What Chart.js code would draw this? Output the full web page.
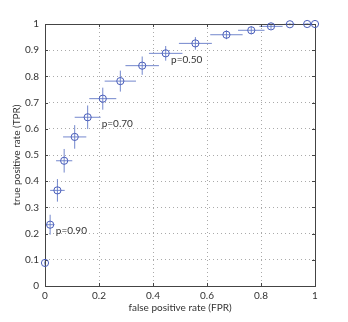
<!DOCTYPE html>
<html>
<head>
<meta charset="utf-8">
<script src="https://cdn.jsdelivr.net/npm/chart.js@4/dist/chart.umd.min.js"></script>
<style>
  html, body { margin: 0; padding: 0; background: #fff; }
  #wrap { width: 348px; height: 322px; }
</style>
</head>
<body>
<div id="wrap"><canvas id="roc"></canvas></div>
<script>
const fpr = [0, 0.019, 0.046, 0.071, 0.110, 0.158, 0.214, 0.279, 0.360, 0.447, 0.557, 0.672, 0.764, 0.837, 0.907, 0.971, 1.0];
const tpr = [0.088, 0.234, 0.365, 0.478, 0.569, 0.644, 0.715, 0.782, 0.841, 0.888, 0.926, 0.959, 0.976, 0.991, 0.999, 1.0, 1.0];
const fprErr = [0.004, 0.016, 0.027, 0.030, 0.043, 0.048, 0.050, 0.058, 0.062, 0.062, 0.061, 0.060, 0.049, 0.043, 0.020, 0.010, 0];
const tprErr = [0.010, 0.038, 0.043, 0.045, 0.045, 0.045, 0.042, 0.040, 0.035, 0.028, 0.024, 0.017, 0.015, 0.010, 0.004, 0.002, 0];

const noteText = ['p=0.90', 'p=0.70', 'p=0.50'];
const noteX = [0.040, 0.210, 0.467];
const noteY = [0.210, 0.618, 0.865];

const xTicks = [0, 0.2, 0.4, 0.6, 0.8, 1];
const yTicks = [0, 0.1, 0.2, 0.3, 0.4, 0.5, 0.6, 0.7, 0.8, 0.9, 1];

const markColor = 'rgb(72, 92, 185)';
const barColor = 'rgba(100, 122, 200, 0.9)';
const textColor = '#333';
const fontFamily = 'Lato, "Open Sans", sans-serif';

// error bars, drawn under the markers
const errorBars = {
    id: 'errorBars',
    beforeDatasetsDraw(chart) {
        const { ctx, scales: { x, y } } = chart;
        ctx.save();
        ctx.strokeStyle = barColor;
        ctx.lineWidth = 1;
        fpr.forEach((fx, i) => {
            const px = x.getPixelForValue(fx);
            const py = y.getPixelForValue(tpr[i]);
            ctx.beginPath();
            ctx.moveTo(x.getPixelForValue(fx - fprErr[i]), py);
            ctx.lineTo(x.getPixelForValue(fx + fprErr[i]), py);
            ctx.moveTo(px, y.getPixelForValue(tpr[i] - tprErr[i]));
            ctx.lineTo(px, y.getPixelForValue(tpr[i] + tprErr[i]));
            ctx.stroke();
        });
        ctx.restore();
    }
};

// box, inward ticks and the p= notes
const frame = {
    id: 'frame',
    beforeDatasetsDraw(chart) {
        const { ctx, chartArea: a, scales: { x, y } } = chart;
        ctx.save();
        ctx.strokeStyle = '#444';
        ctx.lineWidth = 1;
        ctx.strokeRect(Math.round(a.left) + 0.5, Math.round(a.top) + 0.5,
            Math.round(a.right - a.left), Math.round(a.bottom - a.top));
        ctx.beginPath();
        xTicks.forEach(v => {
            const px = Math.round(x.getPixelForValue(v)) + 0.5;
            ctx.moveTo(px, a.bottom); ctx.lineTo(px, a.bottom - 3);
            ctx.moveTo(px, a.top); ctx.lineTo(px, a.top + 3);
        });
        yTicks.forEach(v => {
            const py = Math.round(y.getPixelForValue(v)) + 0.5;
            ctx.moveTo(a.left, py); ctx.lineTo(a.left + 3, py);
            ctx.moveTo(a.right, py); ctx.lineTo(a.right - 3, py);
        });
        ctx.stroke();

        ctx.fillStyle = textColor;
        ctx.font = '10px ' + fontFamily;
        ctx.textAlign = 'left';
        ctx.textBaseline = 'middle';
        noteText.forEach((t, i) => {
            ctx.fillText(t, x.getPixelForValue(noteX[i]), y.getPixelForValue(noteY[i]));
        });
        ctx.restore();
    }
};

new Chart(document.getElementById('roc'), {
    type: 'scatter',
    data: {
        datasets: [{
            data: fpr.map((v, i) => ({ x: v, y: tpr[i] })),
            showLine: false,
            clip: false,
            pointStyle: 'circle',
            pointRadius: 3.6,
            pointHoverRadius: 3.6,
            borderColor: markColor,
            backgroundColor: 'rgba(0,0,0,0)',
            borderWidth: 1,
        }]
    },
    options: {
        responsive: true,
        maintainAspectRatio: false,
        animation: false,
        events: [],
        layout: { padding: { left: 0, right: 33, top: 24, bottom: 0 } },
        plugins: { legend: { display: false }, tooltip: { enabled: false } },
        scales: {
            x: {
                type: 'linear',
                min: 0,
                max: 1,
                afterFit: s => { s.height = 36; },
                afterBuildTicks: s => { s.ticks = xTicks.map(v => ({ value: v })); },
                grid: { color: '#aaa', lineWidth: 1, drawTicks: false },
                border: { display: false, dash: [1, 3] },
                ticks: {
                    padding: 4,
                    color: textColor,
                    font: { family: fontFamily, size: 10 },
                    callback: v => String(+v.toFixed(1))
                },
                title: {
                    display: true,
                    text: 'false positive rate (FPR)',
                    color: textColor,
                    font: { family: fontFamily, size: 10 },
                    padding: { top: 0, bottom: 8 }
                }
            },
            y: {
                type: 'linear',
                min: 0,
                max: 1,
                afterFit: s => { s.width = 45; },
                afterBuildTicks: s => { s.ticks = yTicks.map(v => ({ value: v })); },
                grid: { color: '#aaa', lineWidth: 1, drawTicks: false },
                border: { display: false, dash: [1, 3] },
                ticks: {
                    padding: 6,
                    color: textColor,
                    font: { family: fontFamily, size: 10 },
                    callback: v => String(+v.toFixed(1))
                },
                title: {
                    display: true,
                    text: 'true positive rate (TPR)',
                    color: textColor,
                    font: { family: fontFamily, size: 10 },
                    padding: { top: 11, bottom: 0 }
                }
            }
        }
    },
    plugins: [errorBars, frame]
});
</script>
</body>
</html>
